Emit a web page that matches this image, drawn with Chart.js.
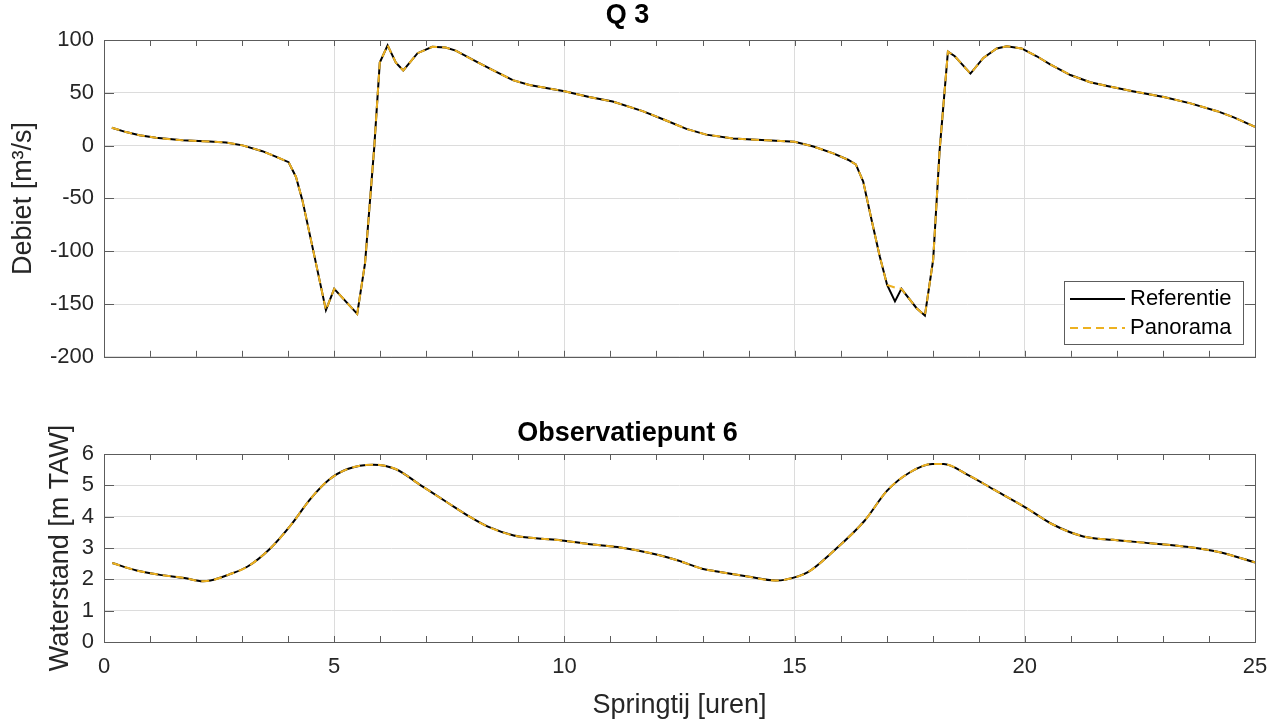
<!DOCTYPE html>
<html>
<head>
<meta charset="utf-8">
<script src="https://cdn.jsdelivr.net/npm/chart.js@4.4.0/dist/chart.umd.min.js"></script>
<style>
  body { margin: 0; background: #fff; }
  #wrap { position: relative; width: 1282px; height: 719px; }
  .box { position: absolute; left: 0; width: 1282px; }
  #topBox { top: 0; height: 380px; }
  #botBox { top: 390px; height: 329px; }
</style>
</head>
<body>
<div id="wrap">
  <div class="box" id="topBox"><canvas id="qChart"></canvas></div>
  <div class="box" id="botBox"><canvas id="hChart"></canvas></div>
</div>
<script>
// Q 3 - debiet (uren, m3/s)
const tQ = [0.17, 0.48, 0.77, 1.13, 1.71, 2.29, 2.65, 3.01, 3.44, 3.73, 4.01, 4.17, 4.31, 4.53, 4.82,
  5.00, 5.50, 5.67, 5.87, 5.99, 6.16, 6.34, 6.50, 6.81, 7.13, 7.42, 7.64, 8.15, 8.51, 8.88, 9.24,
  10.0, 10.54, 11.05, 11.7, 12.21, 12.65, 13.08, 13.66, 14.39, 15.0, 15.41, 15.84, 16.16, 16.33,
  16.49, 16.67, 16.85, 17.01, 17.18, 17.32, 17.65, 17.83, 18.01, 18.15, 18.33, 18.48, 18.82, 19.10,
  19.39, 19.61, 19.93, 20.26, 20.55, 20.99, 21.42, 21.79, 22.37, 23.02, 23.60, 24.18, 24.54, 25.0];
const qRef = [16.9, 12.8, 9.8, 7.4, 5.0, 3.9, 3.0, 0.2, -5.3, -10.4, -15.7, -29.7, -51.9, -96.4, -155.8,
  -135.6, -159.3, -111.3, -1.5, 78.6, 95, 78.6, 71.2, 87.5, 93.5, 92.9, 89.9, 78.0, 70, 62, 57.4,
  51.5, 46, 41.7, 32.7, 23.8, 15.8, 10.4, 6.8, 5, 3.6, -0.9, -7.4, -13.4, -17.8,
  -34, -70, -105, -132, -147.5, -135.6, -154, -161, -108, -4.5, 89, 84.6, 68.2, 83,
  92, 94, 92, 84.6, 77, 66.8, 60, 56.4, 51.3, 46, 40, 32.6, 26.7, 17.8];
const qPan = [16.9, 12.8, 9.8, 7.4, 5.0, 3.9, 3.0, 0.2, -5.3, -10.4, -15.7, -29.7, -51.9, -96.4, -155.8,
  -135.6, -159.3, -111.3, -1.5, 78.6, 95, 78.6, 71.2, 87.5, 93.5, 92.9, 89.9, 78.0, 70, 62, 57.4,
  51.5, 46, 41.7, 32.7, 23.8, 15.8, 10.4, 6.8, 5, 3.6, -0.9, -7.4, -13.4, -17.8,
  -34, -70, -105, -132, -134.4, -135.6, -154, -161, -108, -4.5, 89, 84.6, 68.2, 83,
  92, 94, 92, 84.6, 77, 66.8, 60, 56.4, 51.3, 46, 40, 32.6, 26.7, 17.8];

// Observatiepunt 6 - waterstand (uren, m TAW)
const tH = [0.18, 0.71, 1.19, 1.75, 2.15, 2.31, 2.71, 3.12, 3.60, 4.08, 4.48, 4.88, 5.29, 5.85, 6.33,
  6.89, 7.45, 7.94, 8.34, 8.90, 9.38, 9.94, 10.51, 11.15, 11.95, 12.47, 12.99, 13.32, 13.98, 14.59,
  14.80, 15.29, 15.86, 16.52, 17.01, 17.50, 17.99, 18.24, 18.73, 19.31, 20.01, 20.61, 21.27, 21.92,
  22.74, 23.56, 24.21, 25.0];
const hRef = [2.52, 2.28, 2.15, 2.04, 1.94, 1.96, 2.15, 2.41, 2.97, 3.77, 4.56, 5.17, 5.52, 5.66, 5.52,
  4.99, 4.46, 4.00, 3.68, 3.40, 3.31, 3.24, 3.13, 3.03, 2.81, 2.60, 2.34, 2.25, 2.09, 1.96,
  1.99, 2.23, 2.92, 3.87, 4.83, 5.41, 5.68, 5.68, 5.36, 4.88, 4.30, 3.75, 3.37, 3.26,
  3.15, 3.03, 2.87, 2.54];
const hPan = hRef.slice();

const seriesNames = ['Referentie', 'Panorama'];
const qTicks = [-200, -150, -100, -50, 0, 50, 100];
const hTicks = [0, 1, 2, 3, 4, 5, 6];

const FONT = "'Liberation Sans', Arial, sans-serif";
const AXIS = '#5c5c5c';
const GRID = '#dcdcdc';
const ORANGE = '#EDB120';

Chart.defaults.font.family = FONT;
Chart.defaults.color = '#262626';

function pts(xs, ys) {
  return xs.map((x, i) => ({ x: x, y: ys[i] }));
}

// box around the axes plus inward tick marks, like matlab
const matlabAxes = {
  id: 'matlabAxes',
  afterDraw(chart) {
    const ctx = chart.ctx;
    const a = chart.chartArea;
    const x = chart.scales.x, y = chart.scales.y;
    ctx.save();
    ctx.strokeStyle = AXIS;
    ctx.lineWidth = 1;
    ctx.beginPath();
    x.ticks.forEach(t => {
      const px = Math.round(x.getPixelForValue(t.value)) + 0.5;
      ctx.moveTo(px, a.top); ctx.lineTo(px, a.top + 6);
      ctx.moveTo(px, a.bottom); ctx.lineTo(px, a.bottom - 6);
    });
    y.ticks.forEach(t => {
      const py = Math.round(y.getPixelForValue(t.value)) + 0.5;
      ctx.moveTo(a.left, py); ctx.lineTo(a.left + 10, py);
      ctx.moveTo(a.right, py); ctx.lineTo(a.right - 10, py);
    });
    ctx.stroke();
    ctx.strokeRect(Math.round(a.left) + 0.5, Math.round(a.top) + 0.5,
      Math.round(a.right - a.left), Math.round(a.bottom - a.top));
    ctx.restore();
  }
};

// legend box in the lower right corner of the plot
const boxLegend = {
  id: 'boxLegend',
  afterDraw(chart) {
    const ctx = chart.ctx;
    const a = chart.chartArea;
    const w = 179, h = 63;
    const bx = Math.round(a.right - 12 - w), by = Math.round(a.bottom - 13 - h);
    ctx.save();
    ctx.fillStyle = '#fff';
    ctx.fillRect(bx, by, w, h);
    ctx.strokeStyle = AXIS;
    ctx.lineWidth = 1;
    ctx.strokeRect(bx + 0.5, by + 0.5, w, h);
    ctx.font = '22px ' + FONT;
    ctx.textBaseline = 'middle';
    chart.data.datasets.forEach((ds, i) => {
      const ly = by + 18 + i * 29;
      ctx.strokeStyle = ds.borderColor;
      ctx.lineWidth = ds.borderWidth;
      ctx.setLineDash(ds.borderDash || []);
      ctx.beginPath();
      ctx.moveTo(bx + 6, ly);
      ctx.lineTo(bx + 61, ly);
      ctx.stroke();
      ctx.setLineDash([]);
      ctx.fillStyle = '#000';
      ctx.fillText(ds.label, bx + 66, ly);
    });
    ctx.restore();
  }
};

const xGridColor = c => (c.tick && c.tick.value % 5 === 0 && c.tick.value > 0 && c.tick.value < 25) ? GRID : 'rgba(0,0,0,0)';

new Chart(document.getElementById('qChart'), {
  type: 'line',
  data: {
    datasets: [
      { label: seriesNames[0], data: pts(tQ, qRef), borderColor: '#000', borderWidth: 2,
        pointRadius: 0, tension: 0, fill: false, order: 2 },
      { label: seriesNames[1], data: pts(tQ, qPan), borderColor: ORANGE, borderWidth: 2,
        borderDash: [8, 5], pointRadius: 0, tension: 0, fill: false, order: 1 }
    ]
  },
  options: {
    animation: false,
    responsive: true,
    maintainAspectRatio: false,
    layout: { padding: { left: 0, right: 27, top: 0, bottom: 0 } },
    plugins: {
      legend: { display: false },
      tooltip: { enabled: false },
      title: { display: true, text: 'Q 3', color: '#000',
        font: { size: 27, weight: 'bold', lineHeight: 1 }, padding: { top: 2, bottom: 11 } }
    },
    scales: {
      x: {
        type: 'linear', min: 0, max: 25,
        ticks: { display: false, stepSize: 1, autoSkip: false },
        grid: { drawTicks: false, color: xGridColor },
        border: { display: false },
        afterFit: s => { s.height = 3; }
      },
      y: {
        min: qTicks[0], max: qTicks[qTicks.length - 1],
        afterBuildTicks: s => { s.ticks = qTicks.map(v => ({ value: v })); },
        ticks: { padding: 10, font: { size: 22 } },
        grid: { drawTicks: false, color: GRID },
        border: { display: false },
        title: { display: true, text: 'Debiet [m³/s]', font: { size: 27, lineHeight: 1 },
          padding: { top: 10, bottom: 0 } },
        afterFit: s => { s.width = 104; }
      }
    }
  },
  plugins: [matlabAxes, boxLegend]
});

new Chart(document.getElementById('hChart'), {
  type: 'line',
  data: {
    datasets: [
      { label: seriesNames[0], data: pts(tH, hRef), borderColor: '#000', borderWidth: 2,
        pointRadius: 0, cubicInterpolationMode: 'monotone', fill: false, order: 2 },
      { label: seriesNames[1], data: pts(tH, hPan), borderColor: ORANGE, borderWidth: 2,
        borderDash: [8, 5], pointRadius: 0, cubicInterpolationMode: 'monotone', fill: false, order: 1 }
    ]
  },
  options: {
    animation: false,
    responsive: true,
    maintainAspectRatio: false,
    layout: { padding: { left: 0, right: 27, top: 0, bottom: 0 } },
    plugins: {
      legend: { display: false },
      tooltip: { enabled: false },
      title: { display: true, text: 'Observatiepunt 6', color: '#000',
        font: { size: 27, weight: 'bold', lineHeight: 1 }, padding: { top: 30.5, bottom: 6.5 } }
    },
    scales: {
      x: {
        type: 'linear', min: 0, max: 25,
        ticks: { stepSize: 1, autoSkip: false, maxRotation: 0, padding: 12, font: { size: 22 },
          callback: v => (v % 5 === 0 ? v : '') },
        grid: { drawTicks: false, color: xGridColor },
        border: { display: false },
        title: { display: true, text: 'Springtij [uren]', font: { size: 27, lineHeight: 1 },
          padding: { top: 0, bottom: 0 } },
        afterFit: s => { s.height = 77; }
      },
      y: {
        min: hTicks[0], max: hTicks[hTicks.length - 1],
        afterBuildTicks: s => { s.ticks = hTicks.map(v => ({ value: v })); },
        ticks: { padding: 10, font: { size: 22 } },
        grid: { drawTicks: false, color: GRID },
        border: { display: false },
        title: { display: true, text: 'Waterstand [m TAW]', font: { size: 27, lineHeight: 1 },
          padding: { top: 47, bottom: 0 } },
        afterFit: s => { s.width = 104; }
      }
    }
  },
  plugins: [matlabAxes]
});
</script>
</body>
</html>
